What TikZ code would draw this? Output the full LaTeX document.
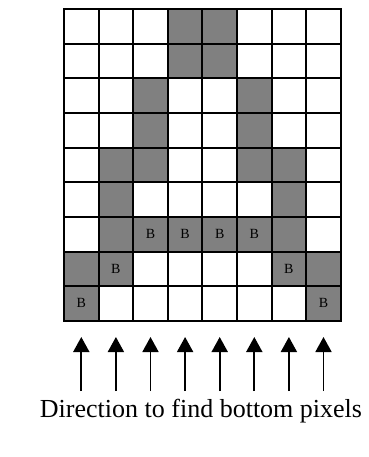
\documentclass[tikz,border=0pt]{standalone}
\usepackage{fontspec}
\setmainfont{Liberation Serif}
\usetikzlibrary{arrows.meta}
\begin{document}
\begin{tikzpicture}[x=1pt,y=-1pt,
  cellbox/.style={draw=black,line width=2pt,fill=white,minimum size=34.6pt,inner sep=0pt,outer sep=0pt,font=\fontsize{14}{14}\selectfont},
  graycell/.style={cellbox,fill=gray},
  dirarrow/.style={line width=1.8pt,-{Triangle[length=15pt,width=16pt]}}]
\useasboundingbox (0,0) rectangle (368,457);
\def\cw{34.6}
% white background cells
\foreach \rr in {0,...,8}{
  \foreach \cc in {0,...,7}{
    \node[cellbox] (c\rr\cc) at ({64+\cw*(\cc+0.5)},{9.3+\cw*(\rr+0.5)}) {};
  }
}
% gray cells
\foreach \rr/\cc/\lab in {0/3/{},0/4/{},1/3/{},1/4/{},2/2/{},2/5/{},3/2/{},3/5/{},4/1/{},4/2/{},4/5/{},4/6/{},5/1/{},5/6/{},
  6/1/{},6/2/B,6/3/B,6/4/B,6/5/B,6/6/{},7/0/{},7/1/B,7/6/B,7/7/{},8/0/B,8/7/B}{
  \node[graycell] (g\rr\cc) at (c\rr\cc) {\lab};
}
\foreach \cc in {0,...,7}{
  \coordinate (t\cc) at ({64+\cw*(\cc+0.5)},391);
  \coordinate (h\cc) at ({64+\cw*(\cc+0.5)},337);
  \draw[dirarrow] (t\cc) -- (h\cc);
}
\node[anchor=base,inner sep=0pt,font=\fontsize{26}{26}\selectfont] (lbl) at (201,417) {Direction to find bottom pixels};
\end{tikzpicture}
\end{document}
